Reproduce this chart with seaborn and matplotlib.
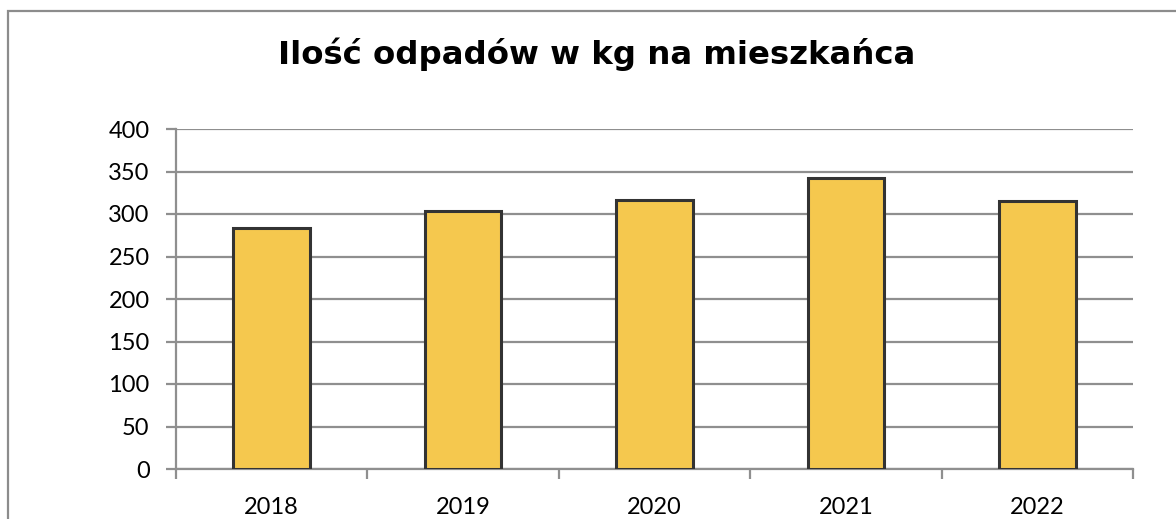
import pandas as pd
import matplotlib.pyplot as plt
import matplotlib.patches as mpatches
from matplotlib.ticker import FixedLocator
import seaborn as sns
import numpy as np

# dane
lata = ['2018', '2019', '2020', '2021', '2022']
odpady_kg = [284, 303, 317, 342, 315]
y_ticks = [0, 50, 100, 150, 200, 250, 300, 350, 400]

df = pd.DataFrame({'rok': lata, 'kg': odpady_kg})

sns.set_style('white')
plt.rcParams['font.family'] = ['Lato', 'DejaVu Sans']
plt.rcParams['text.color'] = 'black'
plt.rcParams['xtick.color'] = 'black'
plt.rcParams['ytick.color'] = 'black'

fig = plt.figure(figsize=(11.76, 5.19), dpi=100)
ax = fig.add_axes([176 / 1176, 50 / 519, (1133 - 176) / 1176, (469 - 129) / 519])

sns.barplot(data=df, x='rok', y='kg', color='#F5C84E', edgecolor='#333333',
            linewidth=2.2, width=0.4, saturation=1, ax=ax, zorder=3)

ax.set_ylim(0, 400)
ax.set_xlim(-0.5, len(lata) - 0.5)
ax.set_yticks(y_ticks)
ax.yaxis.grid(True, color='#8f8f8f', linewidth=1.6, zorder=0)
ax.set_axisbelow(True)
ax.set_xlabel('')
ax.set_ylabel('')

for s in ['top', 'right']:
    ax.spines[s].set_visible(False)
for s in ['left', 'bottom']:
    ax.spines[s].set_color('#8f8f8f')
    ax.spines[s].set_linewidth(1.6)

ax.tick_params(axis='y', which='major', left=True, length=7, width=1.6, color='#8f8f8f',
               labelcolor='black', pad=12, labelsize=17, direction='out')
ax.tick_params(axis='x', which='major', length=0, pad=20, labelsize=17, labelcolor='black')
ax.xaxis.set_minor_locator(FixedLocator(np.arange(-0.5, len(lata), 1.0)))
ax.tick_params(axis='x', which='minor', bottom=True, length=7, width=1.6,
               color='#8f8f8f', direction='out')

fig.text(0.507, 0.896, 'Ilość odpadów w kg na mieszkańca', ha='center', va='center',
         fontsize=23.3, fontweight='bold', family='DejaVu Sans', color='black')

# ramka wykresu
ramka = mpatches.Rectangle((8 / 1176, -0.2), 1.2, 1.2 - 11 / 519,
                           transform=fig.transFigure, fill=False,
                           edgecolor='#8c8c8c', linewidth=1.6)
fig.patches.append(ramka)

plt.savefig('out.png', dpi=100)
plt.close()
